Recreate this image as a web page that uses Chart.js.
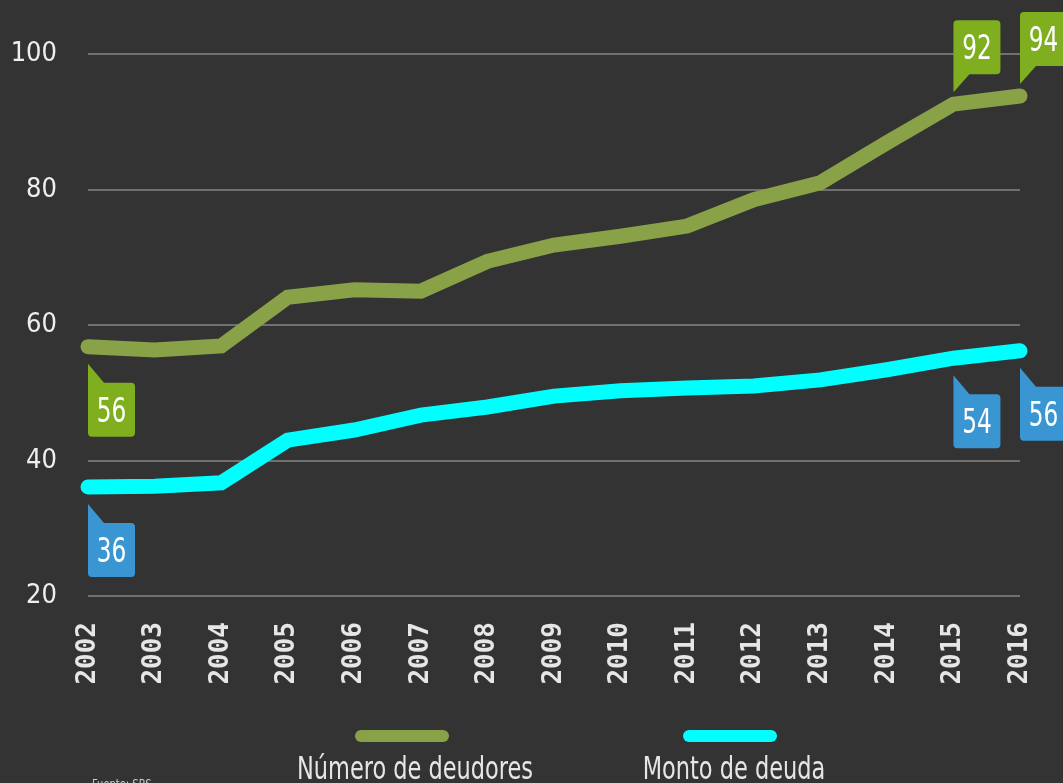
<!DOCTYPE html>
<html>
<head>
<meta charset="utf-8">
<script src="https://cdn.jsdelivr.net/npm/chart.js@4.4.0/dist/chart.umd.min.js"></script>
<style>
  html, body { margin: 0; padding: 0; background: #333333; overflow: hidden; }
  #wrap { position: relative; width: 1063px; height: 783px; }
</style>
</head>
<body>
<div id="wrap"><canvas id="chart" width="1063" height="783"></canvas></div>
<script>
const years = ['2002','2003','2004','2005','2006','2007','2008','2009','2010','2011','2012','2013','2014','2015','2016'];
const deudores = [56.8, 56.3, 56.9, 64.1, 65.2, 65.0, 69.4, 71.8, 73.1, 74.6, 78.5, 81.0, 86.9, 92.6, 93.8];
const deuda = [36.1, 36.2, 36.7, 43.0, 44.5, 46.7, 47.9, 49.5, 50.3, 50.7, 51.0, 51.9, 53.4, 55.1, 56.2];
const yTicks = [20, 40, 60, 80, 100];
const seriesNames = ['Número de deudores', 'Monto de deuda'];

// value tags: which series, which year, shown text
const tagSeries = [0, 0, 0, 1, 1, 1];
const tagIndex = [0, 13, 14, 0, 13, 14];
const tagText = ['56', '92', '94', '36', '54', '56'];
const tagBelow = [true, false, false, true, true, true];

const lineColors = ['#89a248', '#00ffff'];
const tagColors = ['#7fae1e', '#3a96d2'];
const cond = '"DejaVu Sans Condensed", "DejaVu Sans", sans-serif';

// condensed-looking text: squeeze horizontally
function narrowText(ctx, text, x, y, size, squeeze) {
  ctx.save();
  ctx.translate(x, y);
  ctx.scale(squeeze, 1);
  ctx.font = size + 'px ' + cond;
  ctx.fillText(text, 0, 0);
  ctx.restore();
}

function drawTag(ctx, x, y, below, color, text) {
  const w = 47, h = 54, r = 4;
  let top, bottom;
  ctx.beginPath();
  if (below) {
    const tipY = y + 17;
    top = y + 36; bottom = top + h;
    ctx.moveTo(x, tipY);
    ctx.lineTo(x + 16, top);
    ctx.lineTo(x + w - r, top);
    ctx.quadraticCurveTo(x + w, top, x + w, top + r);
    ctx.lineTo(x + w, bottom - r);
    ctx.quadraticCurveTo(x + w, bottom, x + w - r, bottom);
    ctx.lineTo(x + r, bottom);
    ctx.quadraticCurveTo(x, bottom, x, bottom - r);
  } else {
    const tipY = y - 12;
    bottom = y - 30; top = bottom - h;
    ctx.moveTo(x, tipY);
    ctx.lineTo(x, top + r);
    ctx.quadraticCurveTo(x, top, x + r, top);
    ctx.lineTo(x + w - r, top);
    ctx.quadraticCurveTo(x + w, top, x + w, top + r);
    ctx.lineTo(x + w, bottom - r);
    ctx.quadraticCurveTo(x + w, bottom, x + w - r, bottom);
    ctx.lineTo(x + 16, bottom);
  }
  ctx.closePath();
  ctx.fillStyle = color;
  ctx.fill();
  ctx.fillStyle = '#ffffff';
  ctx.textAlign = 'center';
  ctx.textBaseline = 'middle';
  narrowText(ctx, text, x + w / 2, (top + bottom) / 2 + 3, 34, 0.76);
}

const tagsPlugin = {
  id: 'tags',
  afterDatasetsDraw(chart) {
    const ctx = chart.ctx;
    ctx.save();
    for (let i = 0; i < tagText.length; i++) {
      const pt = chart.getDatasetMeta(tagSeries[i]).data[tagIndex[i]];
      drawTag(ctx, pt.x, pt.y, tagBelow[i], tagColors[tagSeries[i]], tagText[i]);
    }
    ctx.restore();
  }
};

const legendPlugin = {
  id: 'customLegend',
  afterDraw(chart) {
    const ctx = chart.ctx;
    const centers = [402, 730];
    const textCenters = [415, 734];
    ctx.save();
    for (let i = 0; i < seriesNames.length; i++) {
      ctx.strokeStyle = lineColors[i];
      ctx.lineWidth = 12;
      ctx.lineCap = 'round';
      ctx.beginPath();
      ctx.moveTo(centers[i] - 41, 736);
      ctx.lineTo(centers[i] + 41, 736);
      ctx.stroke();
      ctx.fillStyle = '#e6e6e6';
      ctx.textAlign = 'center';
      ctx.textBaseline = 'top';
      narrowText(ctx, seriesNames[i], textCenters[i], 755, 32, 0.78);
    }
    ctx.fillStyle = '#cccccc';
    ctx.textAlign = 'left';
    ctx.textBaseline = 'top';
    narrowText(ctx, 'Fuente: SBS', 92, 778, 13, 0.85);
    ctx.restore();
  }
};

new Chart(document.getElementById('chart').getContext('2d'), {
  type: 'line',
  data: {
    labels: years,
    datasets: [
      {
        label: seriesNames[0],
        data: deudores,
        borderColor: lineColors[0],
        borderWidth: 15,
        borderJoinStyle: 'miter',
        borderCapStyle: 'round',
        pointRadius: 0,
        tension: 0,
        fill: false
      },
      {
        label: seriesNames[1],
        data: deuda,
        borderColor: lineColors[1],
        borderWidth: 15,
        borderJoinStyle: 'miter',
        borderCapStyle: 'round',
        pointRadius: 0,
        tension: 0,
        fill: false
      }
    ]
  },
  options: {
    responsive: false,
    animation: false,
    clip: false,
    layout: { padding: { top: 54, right: 43, bottom: 0, left: 0 } },
    plugins: {
      legend: { display: false },
      tooltip: { enabled: false }
    },
    scales: {
      x: {
        grid: { display: false },
        border: { display: false },
        ticks: {
          color: '#e6e6e6',
          font: { family: '"DejaVu Sans Mono", monospace', size: 26, weight: 'bold' },
          minRotation: 90,
          maxRotation: 90,
          padding: 18,
          autoSkip: false
        },
        afterFit(scale) {
          scale.height = 187;
          scale.paddingLeft = 0;
          scale.paddingRight = 0;
        }
      },
      y: {
        min: 20,
        max: 100,
        afterBuildTicks(scale) { scale.ticks = yTicks.map(v => ({ value: v })); },
        grid: { color: '#707070', lineWidth: 2, drawTicks: false },
        border: { display: false },
        ticks: {
          color: '#eeeeee',
          font: { family: cond, size: 27 },
          padding: 31
        },
        afterFit(scale) { scale.width = 88; }
      }
    }
  },
  plugins: [tagsPlugin, legendPlugin]
});
</script>
</body>
</html>
